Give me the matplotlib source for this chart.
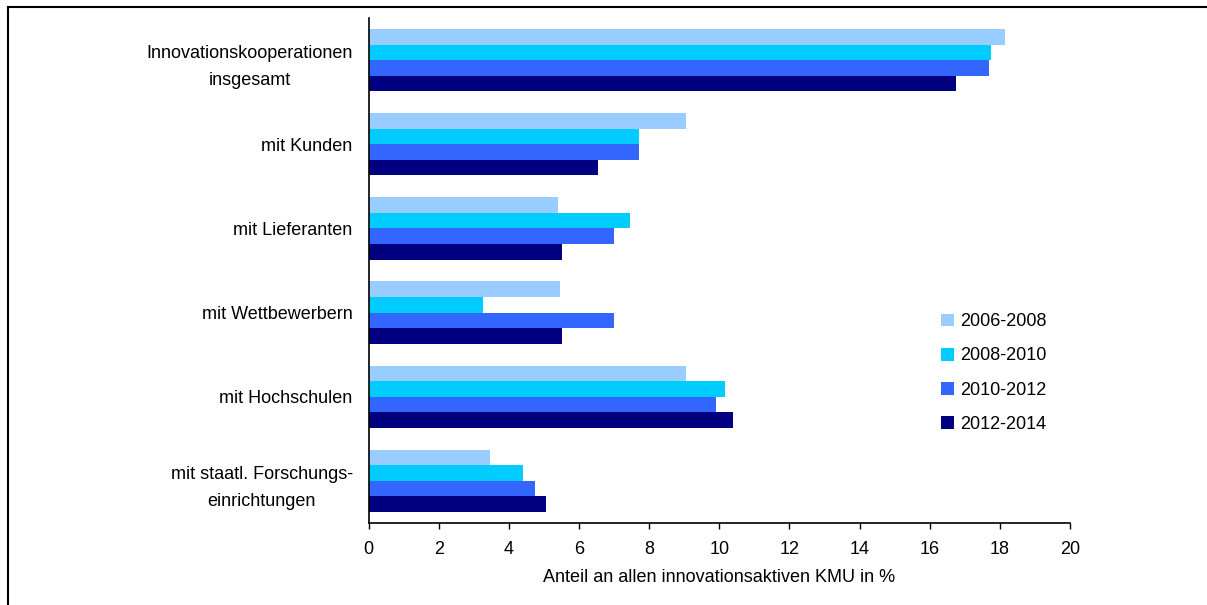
import numpy as np
import matplotlib
matplotlib.use("Agg")
import matplotlib.pyplot as plt
from matplotlib.lines import Line2D

# ---------------- Data ----------------
categories = [
    "Innovationskooperationen\ninsgesamt",
    "mit Kunden",
    "mit Lieferanten",
    "mit Wettbewerbern",
    "mit Hochschulen",
    "mit staatl. Forschungs-\neinrichtungen",
]
periods = ["2006-2008", "2008-2010", "2010-2012", "2012-2014"]
v_2006_2008 = [18.15, 9.05, 5.4, 5.45, 9.05, 3.45]
v_2008_2010 = [17.75, 7.7, 7.45, 3.25, 10.15, 4.4]
v_2010_2012 = [17.7, 7.7, 7.0, 7.0, 9.9, 4.75]
v_2012_2014 = [16.75, 6.55, 5.5, 5.5, 10.4, 5.05]
series = [v_2006_2008, v_2008_2010, v_2010_2012, v_2012_2014]
colors = ["#99CCFF", "#00CCFF", "#3366FF", "#000080"]
x_ticks = list(range(0, 21, 2))

# ---------------- Style ----------------
plt.rcParams["font.family"] = ["Liberation Sans", "DejaVu Sans"]
plt.rcParams["font.size"] = 13

W, H = 1207, 605
fig = plt.figure(figsize=(W / 100, H / 100), dpi=100)
ax = fig.add_axes([368.7 / W, 1 - 523 / H, (1070 - 368.7) / W, (523 - 18) / H])

# ---------------- Bars ----------------
y = np.arange(len(categories))
h = 0.185
offsets = (np.arange(len(periods)) - 1.5) * h
for vals, off, col, lab in zip(series, offsets, colors, periods):
    ax.barh(y + off, vals, height=h, color=col, label=lab, linewidth=0)

ax.set_ylim(len(categories) - 0.5, -0.5)
ax.set_xlim(0, 20)
ax.set_xticks(x_ticks)
ax.set_yticks(y)
ax.set_yticklabels(categories)
for t in ax.get_yticklabels():
    t.set_multialignment("center")
    t.set_linespacing(1.8)
ax.tick_params(axis="y", length=0, pad=11.5)
ax.tick_params(axis="x", direction="out", length=4, width=1, pad=9)
ax.set_xlabel("Anteil an allen innovationsaktiven KMU in %", labelpad=8)

for s in ["top", "right"]:
    ax.spines[s].set_visible(False)
for s in ["left", "bottom"]:
    ax.spines[s].set_linewidth(1.2)

# ---------------- Legend ----------------
ax.legend(loc="center left", bbox_to_anchor=(932 / W, 1 - 373 / H),
          bbox_transform=fig.transFigure, frameon=False,
          handlelength=0.72, handleheight=0.72, handletextpad=0.35,
          labelspacing=0.95, borderpad=0)

# ---------------- Outer frame (top and left) ----------------
fig.add_artist(Line2D([8 / W, 1], [1 - 7 / H, 1 - 7 / H], color="black", lw=1.5,
                      transform=fig.transFigure))
fig.add_artist(Line2D([8 / W, 8 / W], [0, 1 - 7 / H], color="black", lw=1.5,
                      transform=fig.transFigure))

fig.savefig("out.png", dpi=100)
